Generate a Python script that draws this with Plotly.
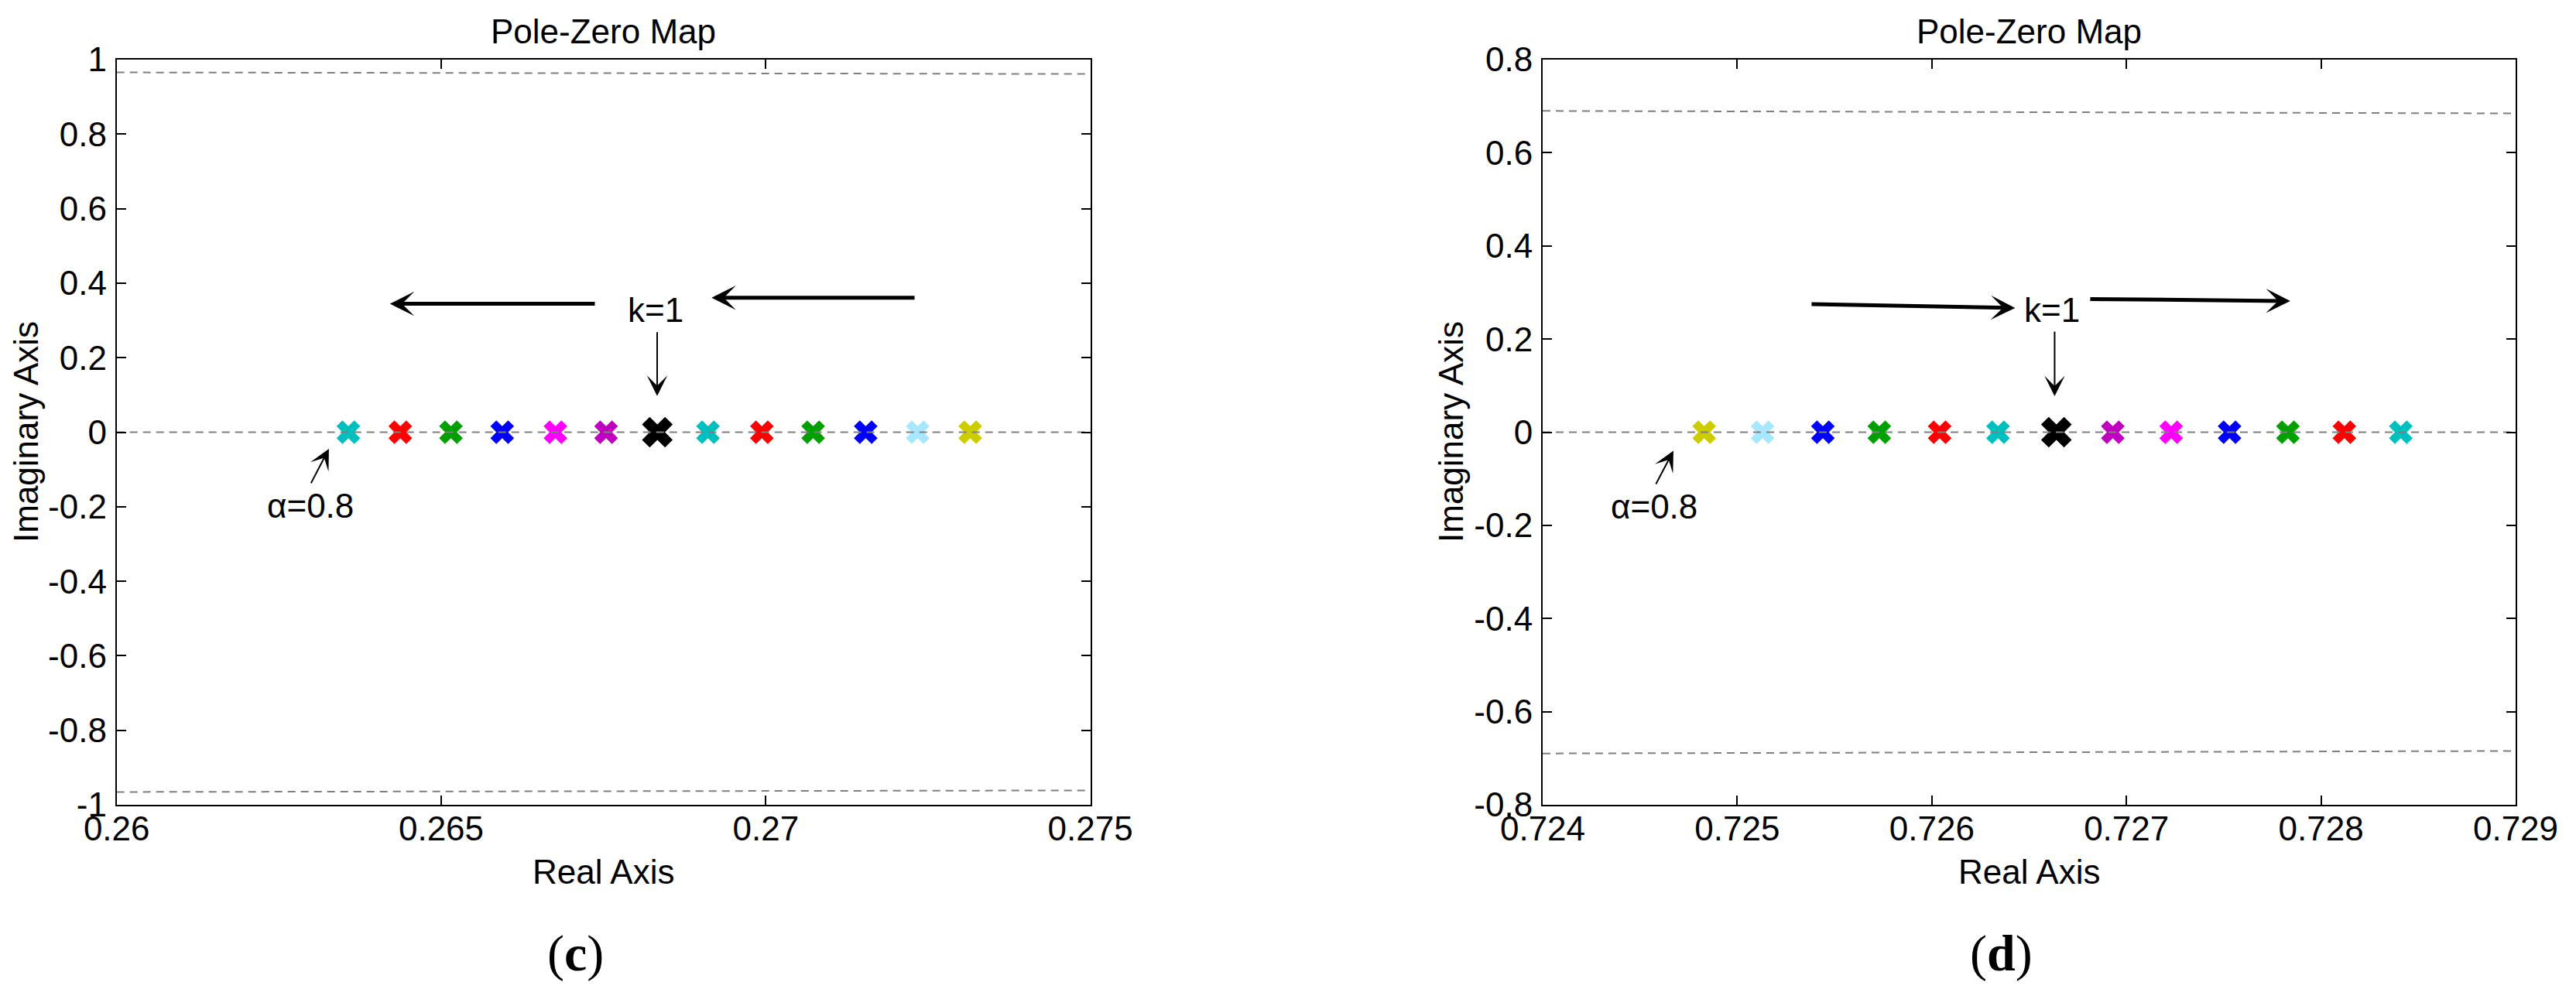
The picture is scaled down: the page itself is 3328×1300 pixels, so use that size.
import plotly.graph_objects as go

# ---------------- data ----------------
# panel (c)
poles_c_re = [0.26357, 0.26437, 0.26515, 0.26594, 0.26676, 0.26754, 0.26833,
              0.26911, 0.26994, 0.27073, 0.27154, 0.27234, 0.27315]
poles_c_im = [0.0] * 13
colors_c = ["#00BFBF", "#FF0000", "#00A000", "#0000FF", "#FF00FF", "#BF00BF", "#000000",
            "#00BFBF", "#FF0000", "#00A000", "#0000FF", "#A8E8FF", "#CCCC00"]
circle_c_re = [0.26, 0.275]
circle_c_im = [0.9656, 0.9614]

# panel (d)
poles_d_re = [0.72483, 0.72513, 0.72544, 0.72573, 0.72604, 0.72634, 0.72664,
              0.72693, 0.72723, 0.72753, 0.72783, 0.72812, 0.72841]
poles_d_im = [0.0] * 13
colors_d = ["#CCCC00", "#A8E8FF", "#0000FF", "#00A000", "#FF0000", "#00BFBF", "#000000",
            "#BF00BF", "#FF00FF", "#0000FF", "#00A000", "#FF0000", "#00BFBF"]
circle_d_re = [0.724, 0.729]
circle_d_im = [0.6898, 0.6845]

# ticks
xt_c = [0.26, 0.265, 0.27, 0.275]
xt_c_txt = ["0.26", "0.265", "0.27", "0.275"]
yt_c = [-1, -0.8, -0.6, -0.4, -0.2, 0, 0.2, 0.4, 0.6, 0.8, 1]
yt_c_txt = ["-1", "-0.8", "-0.6", "-0.4", "-0.2", "0", "0.2", "0.4", "0.6", "0.8", "1"]
xt_d = [0.724, 0.725, 0.726, 0.727, 0.728, 0.729]
xt_d_txt = ["0.724", "0.725", "0.726", "0.727", "0.728", "0.729"]
yt_d = [-0.8, -0.6, -0.4, -0.2, 0, 0.2, 0.4, 0.6, 0.8]
yt_d_txt = ["-0.8", "-0.6", "-0.4", "-0.2", "0", "0.2", "0.4", "0.6", "0.8"]

# annotation anchors (data coords)
k_text_c = [0.268303, 0.329]
k_arrow_c = [0.268327, 0.2717, 0.268327, 0.0972]      # tail x, tail y, tip x, tip y
big_arrows_c = [[0.267385, 0.3446, 0.26421, 0.3446],
                [0.27231, 0.361, 0.269165, 0.361]]
alpha_text_c = [0.262985, -0.197]
alpha_arrow_c = [0.262985, -0.140, 0.26327, -0.0447]

k_text_d = [0.726617, 0.263]
k_arrow_d = [0.726631, 0.2185, 0.726631, 0.0773]
big_arrows_d = [[0.725376, 0.275, 0.726428, 0.2667],
                [0.726808, 0.286, 0.727842, 0.2816]]
alpha_text_d = [0.724573, -0.160]
alpha_arrow_d = [0.724579, -0.1138, 0.724672, -0.0399]

# ---------------- figure ----------------
BODY = 8                      # default page margin around the plot div
W, H = 3328 - 2 * BODY, 1300 - 2 * BODY
FONT = "Liberation Sans, Arial, Helvetica, sans-serif"
FS = 44

def px(x):   # screen x (px) -> paper fraction
    return (x - BODY) / W

def py(y):   # screen y (px) -> paper fraction
    return 1 - (y - BODY) / H

fig = go.Figure()

def add_panel(xa, ya, re, im, cols, cre, cim, xrange):
    sizes = [35 if c == "#000000" else 27 for c in cols]
    fig.add_trace(go.Scatter(x=re, y=im, mode="markers", xaxis=xa, yaxis=ya,
                             marker=dict(symbol="x", size=sizes, color=cols, opacity=1,
                                         line=dict(width=0)),
                             showlegend=False, hoverinfo="x+y"))
    dash = dict(color="#7F7F7F", width=2, dash="10px,7px")
    fig.add_trace(go.Scatter(x=cre, y=cim, mode="lines", xaxis=xa, yaxis=ya,
                             line=dash, showlegend=False, hoverinfo="skip"))
    fig.add_trace(go.Scatter(x=cre, y=[-v for v in cim], mode="lines", xaxis=xa, yaxis=ya,
                             line=dash, showlegend=False, hoverinfo="skip"))
    fig.add_trace(go.Scatter(x=xrange, y=[0, 0], mode="lines", xaxis=xa, yaxis=ya,
                             line=dash, showlegend=False, hoverinfo="skip"))

add_panel("x", "y", poles_c_re, poles_c_im, colors_c, circle_c_re, circle_c_im, [0.26, 0.275])
add_panel("x2", "y2", poles_d_re, poles_d_im, colors_d, circle_d_re, circle_d_im, [0.724, 0.729])

axis_common = dict(showline=True, linecolor="black", linewidth=2, mirror="ticks",
                   ticks="inside", ticklen=12, tickwidth=1.5, tickcolor="black",
                   showgrid=False, zeroline=False, automargin=False,
                   tickfont=dict(family=FONT, size=FS, color="black"))

fig.update_layout(
    template="none",
    width=W, height=H,
    margin=dict(l=0, r=0, t=0, b=0, autoexpand=False),
    paper_bgcolor="white", plot_bgcolor="white",
    xaxis=dict(domain=[px(150.7), px(1408.6)], range=[0.26, 0.275], tickvals=xt_c,
               ticktext=xt_c_txt, anchor="y", ticklabelstandoff=-9, **axis_common),
    yaxis=dict(domain=[py(1040), py(77)], range=[-1, 1], tickvals=yt_c, ticktext=yt_c_txt,
               anchor="x", ticklabelstandoff=2, **axis_common),
    xaxis2=dict(domain=[px(1993), px(3250)], range=[0.724, 0.729], tickvals=xt_d,
                ticktext=xt_d_txt, anchor="y2", ticklabelstandoff=-9, **axis_common),
    yaxis2=dict(domain=[py(1040), py(77)], range=[-0.8, 0.8], tickvals=yt_d,
                ticktext=yt_d_txt, anchor="x2", ticklabelstandoff=2, **axis_common),
)

ann = []
tfont = dict(family=FONT, size=FS, color="black")

def panel_texts(xc, ylab_x, label, labx):
    ann.append(dict(text="Pole-Zero Map", x=px(xc), y=py(40), xref="paper", yref="paper",
                    xanchor="center", yanchor="middle", showarrow=False, font=tfont))
    ann.append(dict(text="Real Axis", x=px(xc), y=py(1126), xref="paper", yref="paper",
                    xanchor="center", yanchor="middle", showarrow=False, font=tfont))
    ann.append(dict(text="Imaginary Axis", x=px(ylab_x), y=py(558), xref="paper",
                    yref="paper", xanchor="center", yanchor="middle", textangle=-90,
                    showarrow=False, font=tfont))
    ann.append(dict(text="(<b>" + label + "</b>)", x=px(labx), y=py(1232), xref="paper",
                    yref="paper", xanchor="center", yanchor="middle", showarrow=False,
                    font=dict(family="Liberation Serif, Times New Roman, serif", size=66,
                              color="black")))

panel_texts((150.7 + 1408.6) / 2, 33, "c", 743)
panel_texts((1993 + 3250) / 2, 1874, "d", 2585)

def panel_annots(xr, yr, ktext, karrow, bigs, atext, aarrow):
    ann.append(dict(text="k=1", x=ktext[0], y=ktext[1], xref=xr, yref=yr, showarrow=False,
                    xanchor="center", yanchor="middle", font=tfont))
    ann.append(dict(text="α=0.8", x=atext[0], y=atext[1], xref=xr, yref=yr, showarrow=False,
                    xanchor="center", yanchor="middle", font=tfont))
    for a in bigs:
        ann.append(dict(text="", x=a[2], y=a[3], ax=a[0], ay=a[1], xref=xr, yref=yr,
                        axref=xr, ayref=yr, showarrow=True, arrowhead=3, arrowsize=1.05,
                        arrowwidth=5, arrowcolor="black", standoff=0, startstandoff=0))
    for a in (karrow, aarrow):
        ann.append(dict(text="", x=a[2], y=a[3], ax=a[0], ay=a[1], xref=xr, yref=yr,
                        axref=xr, ayref=yr, showarrow=True, arrowhead=3, arrowsize=2.2,
                        arrowwidth=2, arrowcolor="black", standoff=0, startstandoff=0))

panel_annots("x", "y", k_text_c, k_arrow_c, big_arrows_c, alpha_text_c, alpha_arrow_c)
panel_annots("x2", "y2", k_text_d, k_arrow_d, big_arrows_d, alpha_text_d, alpha_arrow_d)

fig.update_layout(annotations=ann)

fig.write_html("out.html")
